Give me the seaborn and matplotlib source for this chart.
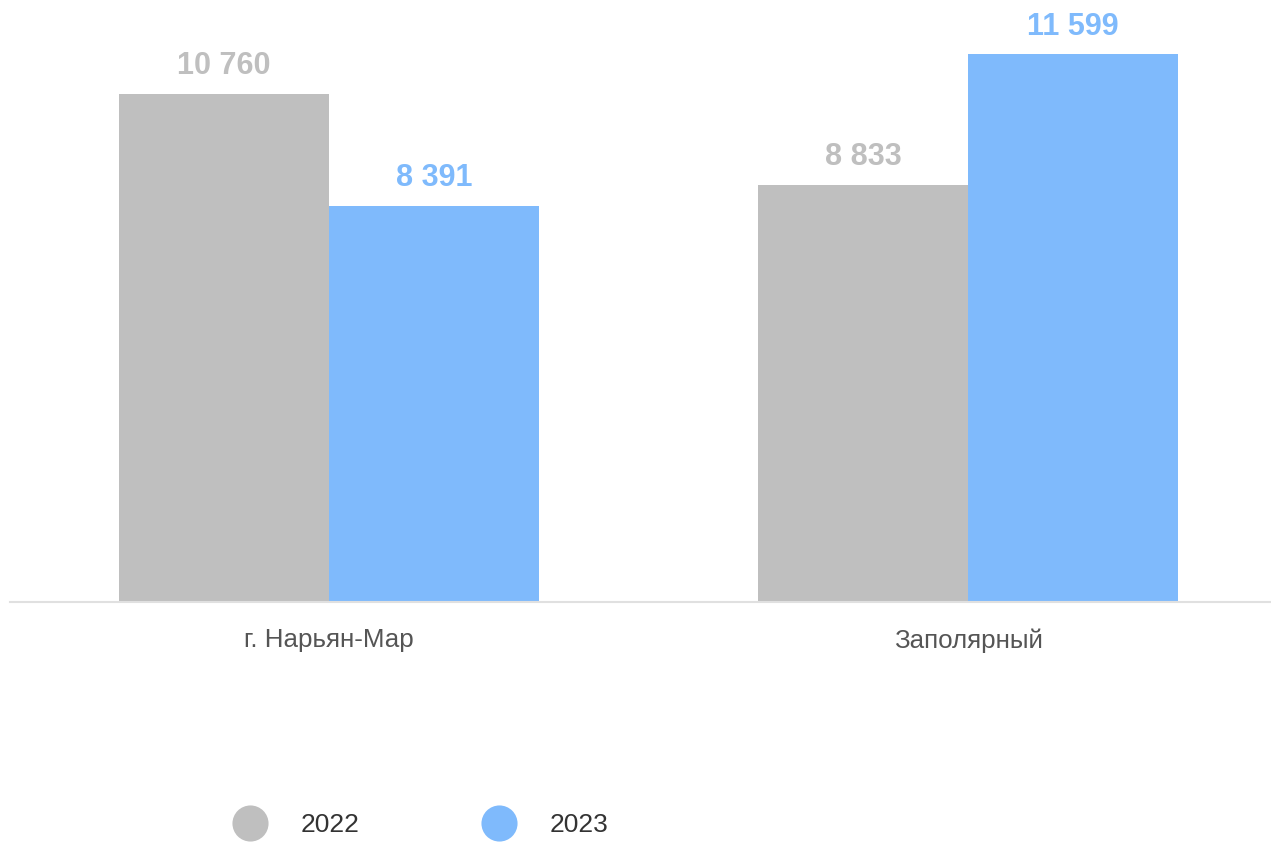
import pandas as pd
import seaborn as sns
import matplotlib.pyplot as plt
from matplotlib.lines import Line2D

# Data
places = ["г. Нарьян-Мар", "Заполярный"]
years = ["2022", "2023"]
values_2022 = [10760, 8833]
values_2023 = [8391, 11599]
colors = {"2022": "#bfbfbf", "2023": "#7fbafc"}

df = pd.DataFrame({
    "place": places * 2,
    "year": [years[0]] * 2 + [years[1]] * 2,
    "value": values_2022 + values_2023,
})

sns.set_style("white")
plt.rcParams["font.family"] = ["Liberation Sans", "DejaVu Sans"]

fig = plt.figure(figsize=(12.71, 8.42), dpi=100)
ax = fig.add_axes([10 / 1271, 240 / 842, 1261 / 1271, 602 / 842])

sns.barplot(data=df, x="place", y="value", hue="year", palette=colors,
            width=0.657, saturation=1, linewidth=0, ax=ax, legend=False)

# value labels
for cont, yr in zip(ax.containers, years):
    labels = [f"{v:,.0f}".replace(",", " ") for v in cont.datavalues]
    ax.bar_label(cont, labels=labels, padding=9, color=colors[yr],
                 fontsize=22, fontweight="bold")

ax.set_xlim(-0.499, 1.474)
ax.set_ylim(0, 12751)
ax.set_xlabel("")
ax.set_ylabel("")
ax.set_yticks([])
ax.tick_params(axis="x", length=0, pad=19, labelsize=18.7, labelcolor="#555555")
for s in ["top", "left", "right"]:
    ax.spines[s].set_visible(False)
ax.spines["bottom"].set_color("#e0e0e0")
ax.spines["bottom"].set_linewidth(1.5)

# legend
handles = [Line2D([], [], marker="o", linestyle="", markersize=26,
                  markerfacecolor=colors[y], markeredgewidth=0) for y in years]
fig.legend(handles, years, loc="center", bbox_to_anchor=(416 / 1271, 1 - 825 / 842),
           ncol=2, frameon=False, fontsize=19, labelcolor="#333333",
           columnspacing=4.3, handletextpad=0.9)

fig.savefig("out.png", dpi=100)
